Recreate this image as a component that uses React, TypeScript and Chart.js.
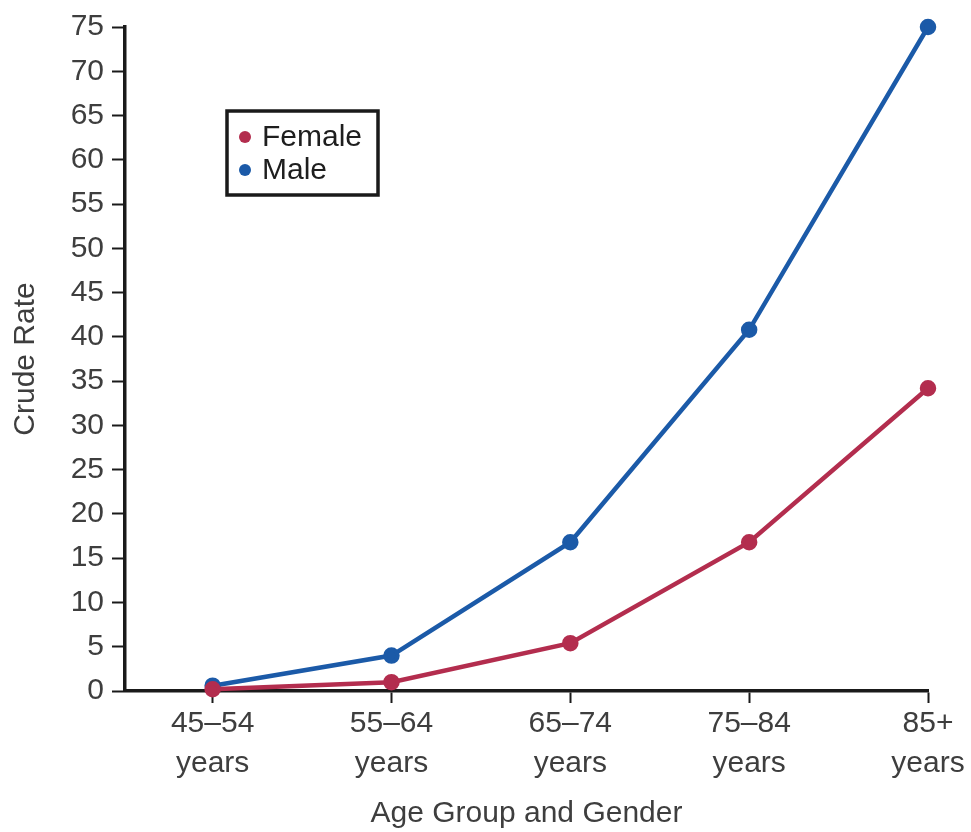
import React, { useEffect, useRef } from "react";
import { Chart, registerables } from "chart.js";

Chart.register(...registerables);

const categories = ["45–54 years", "55–64 years", "65–74 years", "75–84 years", "85+ years"];
const femaleRates = [0.2, 1.0, 5.4, 16.8, 34.2];
const maleRates = [0.6, 4.0, 16.8, 40.8, 75.0];
const yTicks = [0, 5, 10, 15, 20, 25, 30, 35, 40, 45, 50, 55, 60, 65, 70, 75];
const seriesNames = ["Female", "Male"];
const seriesColors = ["#b32d4e", "#1b5aa8"];

const FONT = "'Liberation Sans', Arial, Helvetica, sans-serif";

const legendPlugin = {
  id: "boxLegend",
  afterDraw(chart: any) {
    const ctx = chart.ctx;
    const x0 = 227, y0 = 111, w = 151, h = 84;
    ctx.save();
    ctx.lineWidth = 3.5;
    ctx.strokeStyle = "#1a1a1a";
    ctx.fillStyle = "#ffffff";
    ctx.fillRect(x0, y0, w, h);
    ctx.strokeRect(x0, y0, w, h);
    ctx.font = `30px ${FONT}`;
    ctx.textBaseline = "middle";
    ctx.textAlign = "left";
    chart.data.datasets.forEach((ds: any, i: number) => {
      const cy = y0 + 26 + i * 33;
      ctx.beginPath();
      ctx.fillStyle = ds.borderColor;
      ctx.arc(x0 + 18, cy, 6, 0, Math.PI * 2);
      ctx.fill();
      ctx.fillStyle = "#1e1e1e";
      ctx.fillText(ds.label, x0 + 35, cy + 1);
    });
    ctx.restore();
  },
};

export default function App() {
  const ref = useRef<HTMLCanvasElement>(null);
  useEffect(() => {
    if (!ref.current) return;
    const series = [femaleRates, maleRates];
    const chart = new Chart(ref.current, {
      type: "line",
      data: {
        datasets: series.map((vals, si) => ({
          label: seriesNames[si],
          data: vals.map((v, i) => ({ x: i, y: v })),
          borderColor: seriesColors[si],
          backgroundColor: seriesColors[si],
          pointBackgroundColor: seriesColors[si],
          pointBorderColor: seriesColors[si],
          borderWidth: 4.5,
          pointRadius: 6,
          tension: 0,
          clip: false as any,
        })),
      },
      options: {
        responsive: false,
        animation: false,
        layout: { padding: { top: 27, right: 43, left: 0, bottom: 0 } },
        plugins: {
          legend: { display: false },
          tooltip: { enabled: false },
        },
        scales: {
          x: {
            type: "linear",
            min: -0.49,
            max: categories.length - 1,
            afterFit: (s: any) => { s.height = 141; },
            afterBuildTicks: (s: any) => { s.ticks = categories.map((_, i) => ({ value: i })); },
            border: { display: true, color: "#1a1a1a", width: 3.5 },
            grid: { display: true, drawOnChartArea: false, drawTicks: true, tickLength: 12, tickColor: "#1a1a1a", tickWidth: 2 },
            ticks: {
              padding: 1,
              color: "#3e3e3e",
              font: { family: FONT, size: 30, lineHeight: 40 / 30 },
              callback: (v: any) => {
                const c = categories[Math.round(Number(v))];
                return c ? c.split(" ") : "";
              },
            },
            title: {
              display: true,
              text: "Age Group and Gender",
              color: "#3e3e3e",
              font: { family: FONT, size: 30 },
              padding: { top: 0, bottom: 0 },
            },
          },
          y: {
            min: 0,
            max: 75,
            afterFit: (s: any) => { s.width = 125; },
            afterBuildTicks: (s: any) => { s.ticks = yTicks.map((v) => ({ value: v })); },
            border: { display: true, color: "#1a1a1a", width: 3.5 },
            grid: { display: true, drawOnChartArea: false, drawTicks: true, tickLength: 13, tickColor: "#1a1a1a", tickWidth: 2 },
            ticks: {
              padding: 8,
              color: "#3e3e3e",
              font: { family: FONT, size: 30 },
            },
            title: {
              display: true,
              text: "Crude Rate",
              color: "#3e3e3e",
              font: { family: FONT, size: 30 },
              padding: { top: 8, bottom: 0 },
            },
          },
        },
      },
      plugins: [legendPlugin],
    });
    return () => chart.destroy();
  }, []);
  return (
    <div style={{ position: "fixed", left: 0, top: 0, width: 971, height: 832, background: "#fff" }}>
      <canvas ref={ref} width={971} height={832} style={{ display: "block" }} />
    </div>
  );
}
